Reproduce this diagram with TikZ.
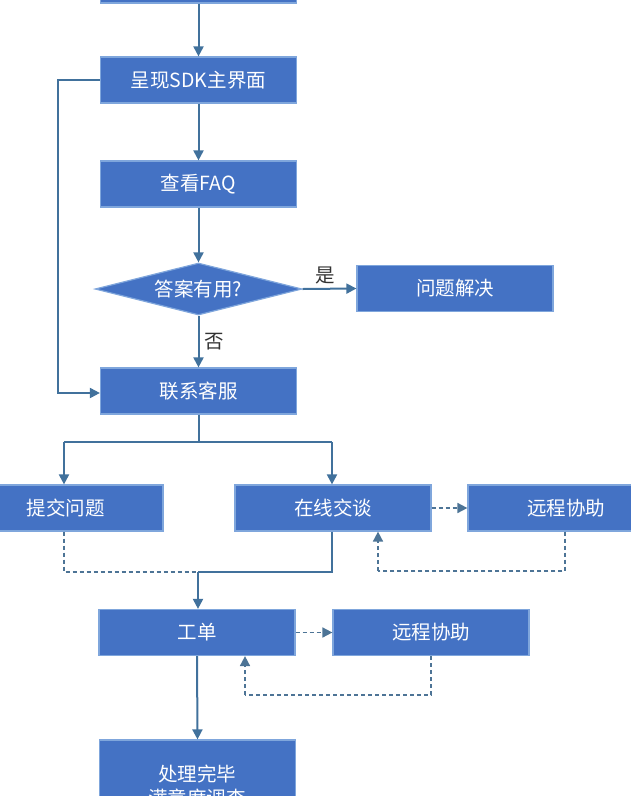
\documentclass[tikz,border=0pt]{standalone}
\usepackage{fontspec}
\setmainfont{Noto Sans CJK SC}
\usetikzlibrary{shapes.geometric,arrows.meta}
\definecolor{bfill}{HTML}{4472C4}
\definecolor{bdraw}{HTML}{7FA6DC}
\definecolor{ln}{HTML}{41719C}
\begin{document}
\begin{tikzpicture}[x=1pt,y=-1pt,
  tf/.style={font=\fontsize{19.5}{24}\selectfont},
  box/.style={draw=bdraw,line width=1.2pt,fill=bfill,text=white,tf,minimum width=196pt,minimum height=46pt,inner sep=0pt},
  tip/.style={-{Triangle[length=10pt,width=10pt]}},
  ar/.style={draw=ln,line width=2pt,tip},
  ln/.style={draw=ln,line width=2pt},
  da/.style={draw=ln!80!gray,line width=1.7pt,dash pattern=on 4pt off 3pt},
  lab/.style={tf,text=black!80}]
\useasboundingbox (0,0) rectangle (631,796);
\begin{scope}
\clip (0,0) rectangle (631,796);
\node[box] (top) at (198.5,-20) {};
\node[box] (sdk) at (198.5,80) {呈现SDK主界面};
\node[box] (faq) at (198.5,184) {查看FAQ};
\node[diamond,aspect=4,draw=bdraw,line width=1.2pt,fill=bfill,text=white,tf,minimum width=207pt,minimum height=52pt,inner sep=0pt] (dec) at (198.5,289) {答案有用?};
\node[box] (ok) at (455,288.5) {问题解决};
\node[box] (kf) at (198.5,391) {联系客服};
\node[box,minimum width=250pt] (tj) at (38,508) {};
\node[text=white,tf] (tjt) at (66,508) {提交问题};
\node[box] (zx) at (333,508) {在线交谈};
\node[box,minimum width=250pt] (yc1) at (593,508) {};
\node[text=white,tf] (yc1t) at (566,508) {远程协助};
\node[box] (gd) at (197,632.5) {工单};
\node[box] (yc2) at (431,632.5) {远程协助};
\node[box,minimum height=110pt] (cl) at (197.5,795) {};
\node[text=white,tf,align=center] (clt) at (197,786) {处理完毕\\满意度调查};

\coordinate (k1) at (58,80);
\coordinate (k2) at (58,393);
\coordinate (j1) at (198.5,442);
\coordinate (jl) at (64,442);
\coordinate (jr) at (332,442);
\coordinate (m1) at (64,572);
\coordinate (m2) at (332,572);
\coordinate (mc) at (198,572);
\coordinate (r1) at (565,571);
\coordinate (r2) at (378,571);
\coordinate (s1) at (431,695);
\coordinate (s2) at (245,695);

\draw[ar] (top.south) -- (sdk.north);
\draw[ar] (sdk) -- (faq);
\draw[ar] (faq) -- (dec);
\draw[ar] (dec) -- node[lab,right,xshift=2pt]{否} (kf);
\draw[ar] (dec.east) -- node[lab,above,xshift=-4pt]{是} (ok.west);
\draw[ar] (sdk.west) -- (k1) -- (k2) -- (kf.west |- k2);
\draw[ln] (kf.south) -- (j1);
\draw[ln] (jl) -- (jr);
\draw[ar] (jl) -- (jl |- tj.north);
\draw[ar] (jr) -- (jr |- zx.north);
\draw[da] (m1 |- tj.south) -- (m1) -- (mc);
\draw[ln] (m2 |- zx.south) -- (m2) -- (mc);
\draw[ar] (mc) -- (mc |- gd.north);
\draw[da,tip] (zx.east) -- (yc1.west);
\draw[da] (r1 |- yc1.south) -- (r1) -- (r2);
\draw[da,tip] (r2) -- (r2 |- zx.south);
\draw[da,tip] (gd.east) -- (yc2.west);
\draw[da] (yc2.south) -- (s1) -- (s2);
\draw[da,tip] (s2) -- (s2 |- gd.south);
\draw[ar] (gd.south) -- (cl.north);
\end{scope}
\end{tikzpicture}
\end{document}
